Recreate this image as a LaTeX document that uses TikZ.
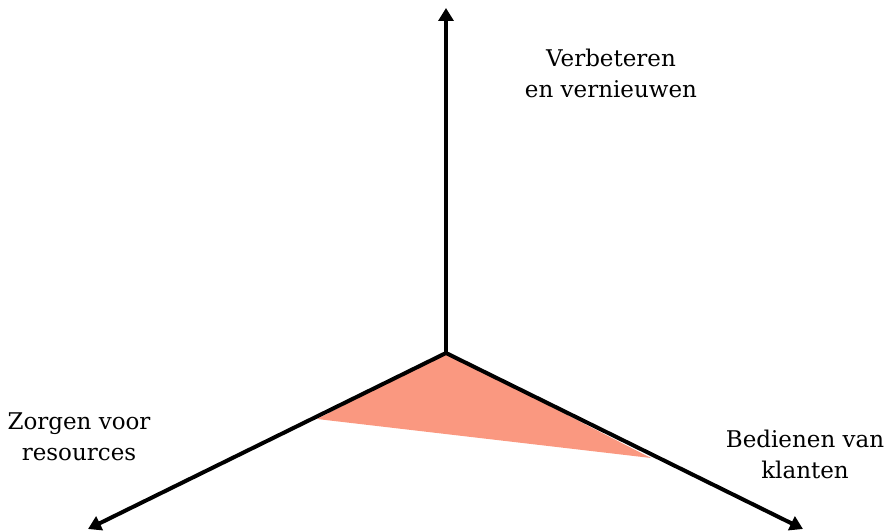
\documentclass[tikz,border=0pt]{standalone}
\usepackage{fontspec}
\setmainfont{DejaVu Serif}
\usetikzlibrary{arrows.meta}
\definecolor{salmonfill}{RGB}{250,152,128}
\begin{document}
\begin{tikzpicture}[x=1pt,y=-1pt,line width=4pt,>={Triangle[length=13pt,width=15pt]},
  axislabel/.style={align=center,font=\fontsize{23}{31}\selectfont,inner sep=0pt}]
  \useasboundingbox (0,0) rectangle (891,532);
  \coordinate (o) at (446,353);
  \coordinate (top) at (446,8);
  \coordinate (lft) at (88,529);
  \coordinate (rgt) at (803,529);
  \coordinate (tl) at (317,419);
  \coordinate (tr) at (651,458);
  \fill[salmonfill] (o)--(tl)--(tr)--cycle;
  \draw[->] (o)--(top);
  \draw[->] (o)--(lft);
  \draw[->] (o)--(rgt);
  \node[axislabel] (improve) at (611,73) {Verbeteren\\en vernieuwen};
  \node[axislabel] (resources) at (79,437) {Zorgen voor\\resources};
  \node[axislabel] (clients) at (805,454) {Bedienen van\\klanten};
\end{tikzpicture}
\end{document}
